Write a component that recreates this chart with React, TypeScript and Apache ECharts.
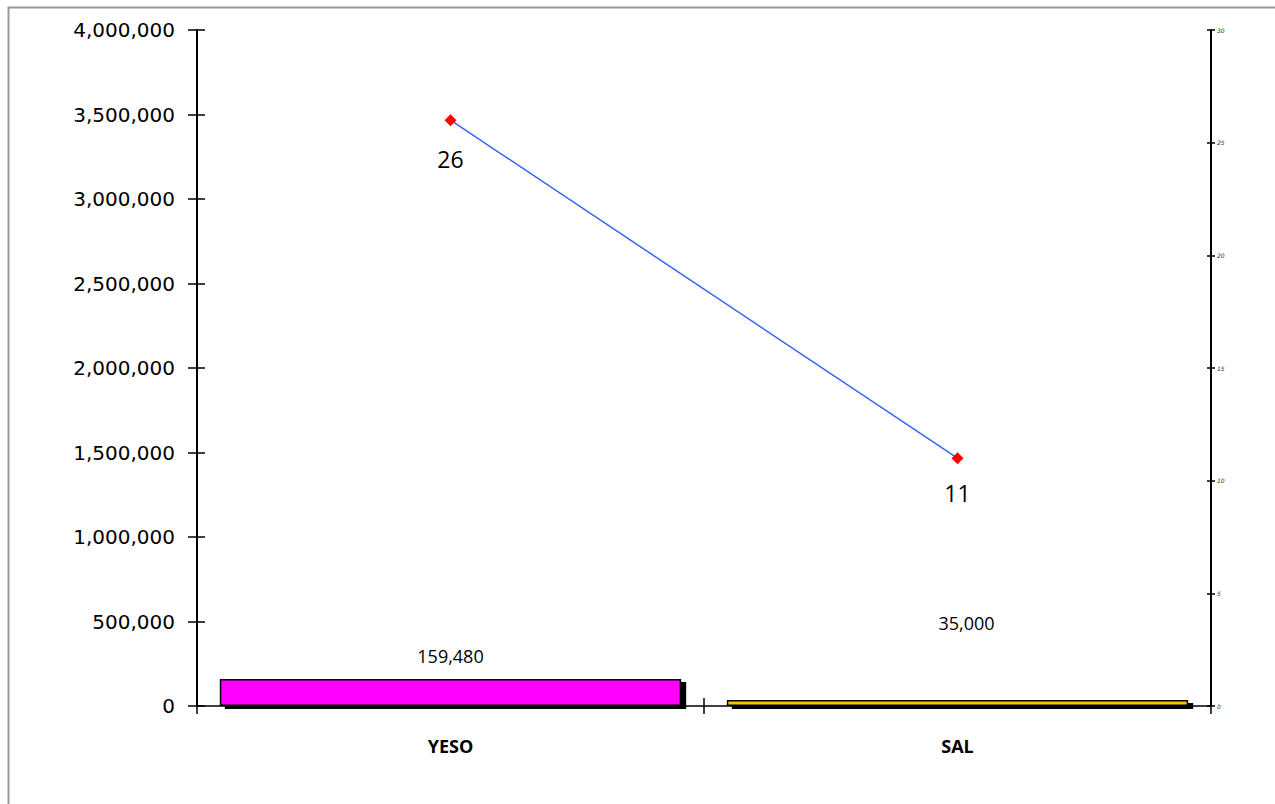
import React, { useEffect, useRef } from "react";
import * as echarts from "echarts";

const categories = ["YESO", "SAL"];
const barValues = [159480, 35000];
const barColors = ["#FF00FF", "#FFC000"];
const barLabelDistance = [14, 68];
const barLabelOffsetX = [0, 9];
const lineValues = [26, 11];
const lineLabelDistance = [21, 17];
const leftTicks = { min: 0, max: 4000000, interval: 500000 };
const rightTicks = { min: 0, max: 30, interval: 5 };

export default function App() {
  const ref = useRef<HTMLDivElement>(null);
  useEffect(() => {
    if (!ref.current) return;
    const chart = echarts.init(ref.current, null, { renderer: "svg" });
    const axisLine = { show: true, lineStyle: { color: "#000", width: 2 } };
    const tickStyle = { color: "#000", width: 1.5 };
    chart.setOption({
      animation: false,
      backgroundColor: "#fff",
      graphic: [
        {
          type: "rect",
          z: -10,
          shape: { x: 8.5, y: 7.5, width: 1400, height: 1000 },
          style: { fill: "none", stroke: "#999", lineWidth: 2 },
        },
      ],
      grid: { left: 197, right: 64, top: 30, bottom: 98, containLabel: false },
      xAxis: [
        {
          type: "category",
          data: categories,
          boundaryGap: true,
          axisLine: { show: true, onZero: false, lineStyle: { color: "#000", width: 1.5 } },
          axisTick: { show: true, length: 8, inside: false, lineStyle: tickStyle },
          axisLabel: {
            margin: 31,
            fontFamily: "Open Sans",
            fontWeight: "bold",
            fontSize: 18,
            color: "#000",
          },
          splitLine: { show: false },
        },
        {
          type: "category",
          data: categories,
          position: "bottom",
          boundaryGap: true,
          axisLine: { show: false },
          axisTick: { show: true, length: 8, inside: true, lineStyle: tickStyle },
          axisLabel: { show: false },
          splitLine: { show: false },
        },
      ],
      yAxis: [
        {
          type: "value",
          position: "left",
          min: leftTicks.min,
          max: leftTicks.max,
          interval: leftTicks.interval,
          axisLine,
          axisTick: { show: true, length: 9, inside: false, lineStyle: tickStyle },
          axisLabel: {
            margin: 22,
            fontFamily: "DejaVu Sans",
            fontSize: 20,
            color: "#000",
            formatter: (v: number) => v.toLocaleString("en-US"),
          },
          splitLine: { show: false },
        },
        {
          type: "value",
          position: "left",
          min: leftTicks.min,
          max: leftTicks.max,
          interval: leftTicks.interval,
          axisLine: { show: false },
          axisTick: { show: true, length: 8, inside: true, lineStyle: tickStyle },
          axisLabel: { show: false },
          splitLine: { show: false },
        },
        {
          type: "value",
          position: "right",
          min: rightTicks.min,
          max: rightTicks.max,
          interval: rightTicks.interval,
          axisLine,
          axisTick: { show: true, length: 4, inside: false, lineStyle: tickStyle },
          axisLabel: {
            margin: 6,
            fontFamily: "DejaVu Sans",
            fontStyle: "italic",
            fontSize: 6,
            color: "#333",
          },
          splitLine: { show: false },
        },
        {
          type: "value",
          position: "right",
          min: rightTicks.min,
          max: rightTicks.max,
          interval: rightTicks.interval,
          axisLine: { show: false },
          axisTick: { show: true, length: 4, inside: true, lineStyle: tickStyle },
          axisLabel: { show: false },
          splitLine: { show: false },
        },
      ],
      series: [
        {
          type: "bar",
          xAxisIndex: 0,
          yAxisIndex: 0,
          barWidth: "91%",
          data: barValues.map((v, i) => ({
            value: v,
            itemStyle: {
              color: barColors[i],
              borderColor: "#000",
              borderWidth: 1.5,
              shadowColor: "#000",
              shadowOffsetX: 5,
              shadowOffsetY: 3,
              shadowBlur: 0,
            },
            label: {
              show: true,
              position: "top",
              distance: barLabelDistance[i],
              offset: [barLabelOffsetX[i], 0],
              fontFamily: "Open Sans",
              fontSize: 18,
              color: "#000",
              formatter: (p: any) => Number(p.value).toLocaleString("en-US"),
            },
          })),
        },
        {
          type: "line",
          xAxisIndex: 0,
          yAxisIndex: 2,
          data: lineValues.map((v, i) => ({
            value: v,
            label: {
              show: true,
              position: "bottom",
              distance: lineLabelDistance[i],
              fontFamily: "Open Sans",
              fontSize: 23,
              color: "#000",
            },
          })),
          symbol: "diamond",
          symbolSize: 12,
          itemStyle: { color: "#FF0000" },
          lineStyle: { color: "#3366FF", width: 1.5 },
          z: 5,
        },
      ],
    });
    return () => chart.dispose();
  }, []);
  return (
    <div
      ref={ref}
      style={{ position: "absolute", left: 0, top: 0, width: 1275, height: 804 }}
    />
  );
}
